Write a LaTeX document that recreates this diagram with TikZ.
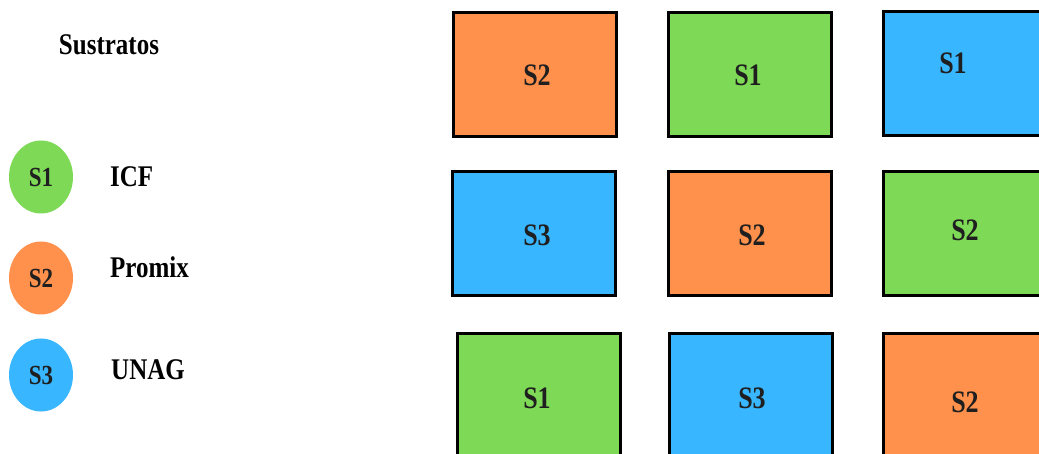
\documentclass[tikz,border=0pt]{standalone}
\usepackage{fontspec}
\usepackage{graphicx}
\setmainfont{Liberation Serif}
\usetikzlibrary{shapes.geometric}
\definecolor{cOr}{RGB}{255,145,77}
\definecolor{cGr}{RGB}{126,217,87}
\definecolor{cBl}{RGB}{56,182,255}
\newcommand{\tallx}[1]{\scalebox{1}[1.2]{#1}}
\tikzset{
  plot/.style={draw=black, line width=3pt, fill=#1, rectangle, minimum width=163pt, minimum height=124pt, inner sep=0pt},
  plbl/.style={font=\fontsize{26}{26}\selectfont\bfseries, text=black!88, inner sep=0pt},
  legdot/.style={ellipse, fill=#1, minimum width=64pt, minimum height=73pt, inner sep=0pt, font=\fontsize{23}{23}\selectfont\bfseries, text=black!88},
  legtxt/.style={anchor=west, font=\fontsize{25}{25}\selectfont\bfseries, inner sep=0pt}
}
\begin{document}
\begin{tikzpicture}[x=1pt,y=-1pt]
\useasboundingbox (0,0) rectangle (1039,454);
\clip (0,0) rectangle (1039,454);
% legend
\node[font=\fontsize{25}{25}\selectfont\bfseries, inner sep=0pt] (title) at (109,45) {\tallx{Sustratos}};
\node[legdot=cGr] (d1) at (41,177) {\tallx{S1}};
\node[legdot=cOr] (d2) at (41,278) {\raisebox{-5pt}{\tallx{S2}}};
\node[legdot=cBl] (d3) at (41,375) {\tallx{S3}};
\node[legtxt] (t1) at (110,177) {\tallx{ICF}};
\node[legtxt] (t2) at (110,267) {\tallx{Promix}};
\node[legtxt] (t3) at (111,370) {\tallx{UNAG}};
% grid row 1
\node[plot=cOr] (b11) at (535,74.5) {};
\node[plot=cGr] (b12) at (749.5,75) {};
\node[plot=cBl] (b13) at (965,74) {};
\node[plbl] (l11) at (537,75) {\tallx{S2}};
\node[plbl] (l12) at (748,75) {\tallx{S1}};
\node[plbl] (l13) at (953,63) {\tallx{S1}};
% row 2
\node[plot=cBl] (b21) at (534,233.5) {};
\node[plot=cOr] (b22) at (750,233.5) {};
\node[plot=cGr] (b23) at (965,233.5) {};
\node[plbl] (l21) at (537,235) {\tallx{S3}};
\node[plbl] (l22) at (752,235) {\tallx{S2}};
\node[plbl] (l23) at (965,230) {\tallx{S2}};
% row 3
\node[plot=cGr] (b31) at (538.5,395.5) {};
\node[plot=cBl] (b32) at (751,395.5) {};
\node[plot=cOr] (b33) at (965,395.5) {};
\node[plbl] (l31) at (537,398) {\tallx{S1}};
\node[plbl] (l32) at (752,398) {\tallx{S3}};
\node[plbl] (l33) at (965,402) {\tallx{S2}};
\end{tikzpicture}
\end{document}
